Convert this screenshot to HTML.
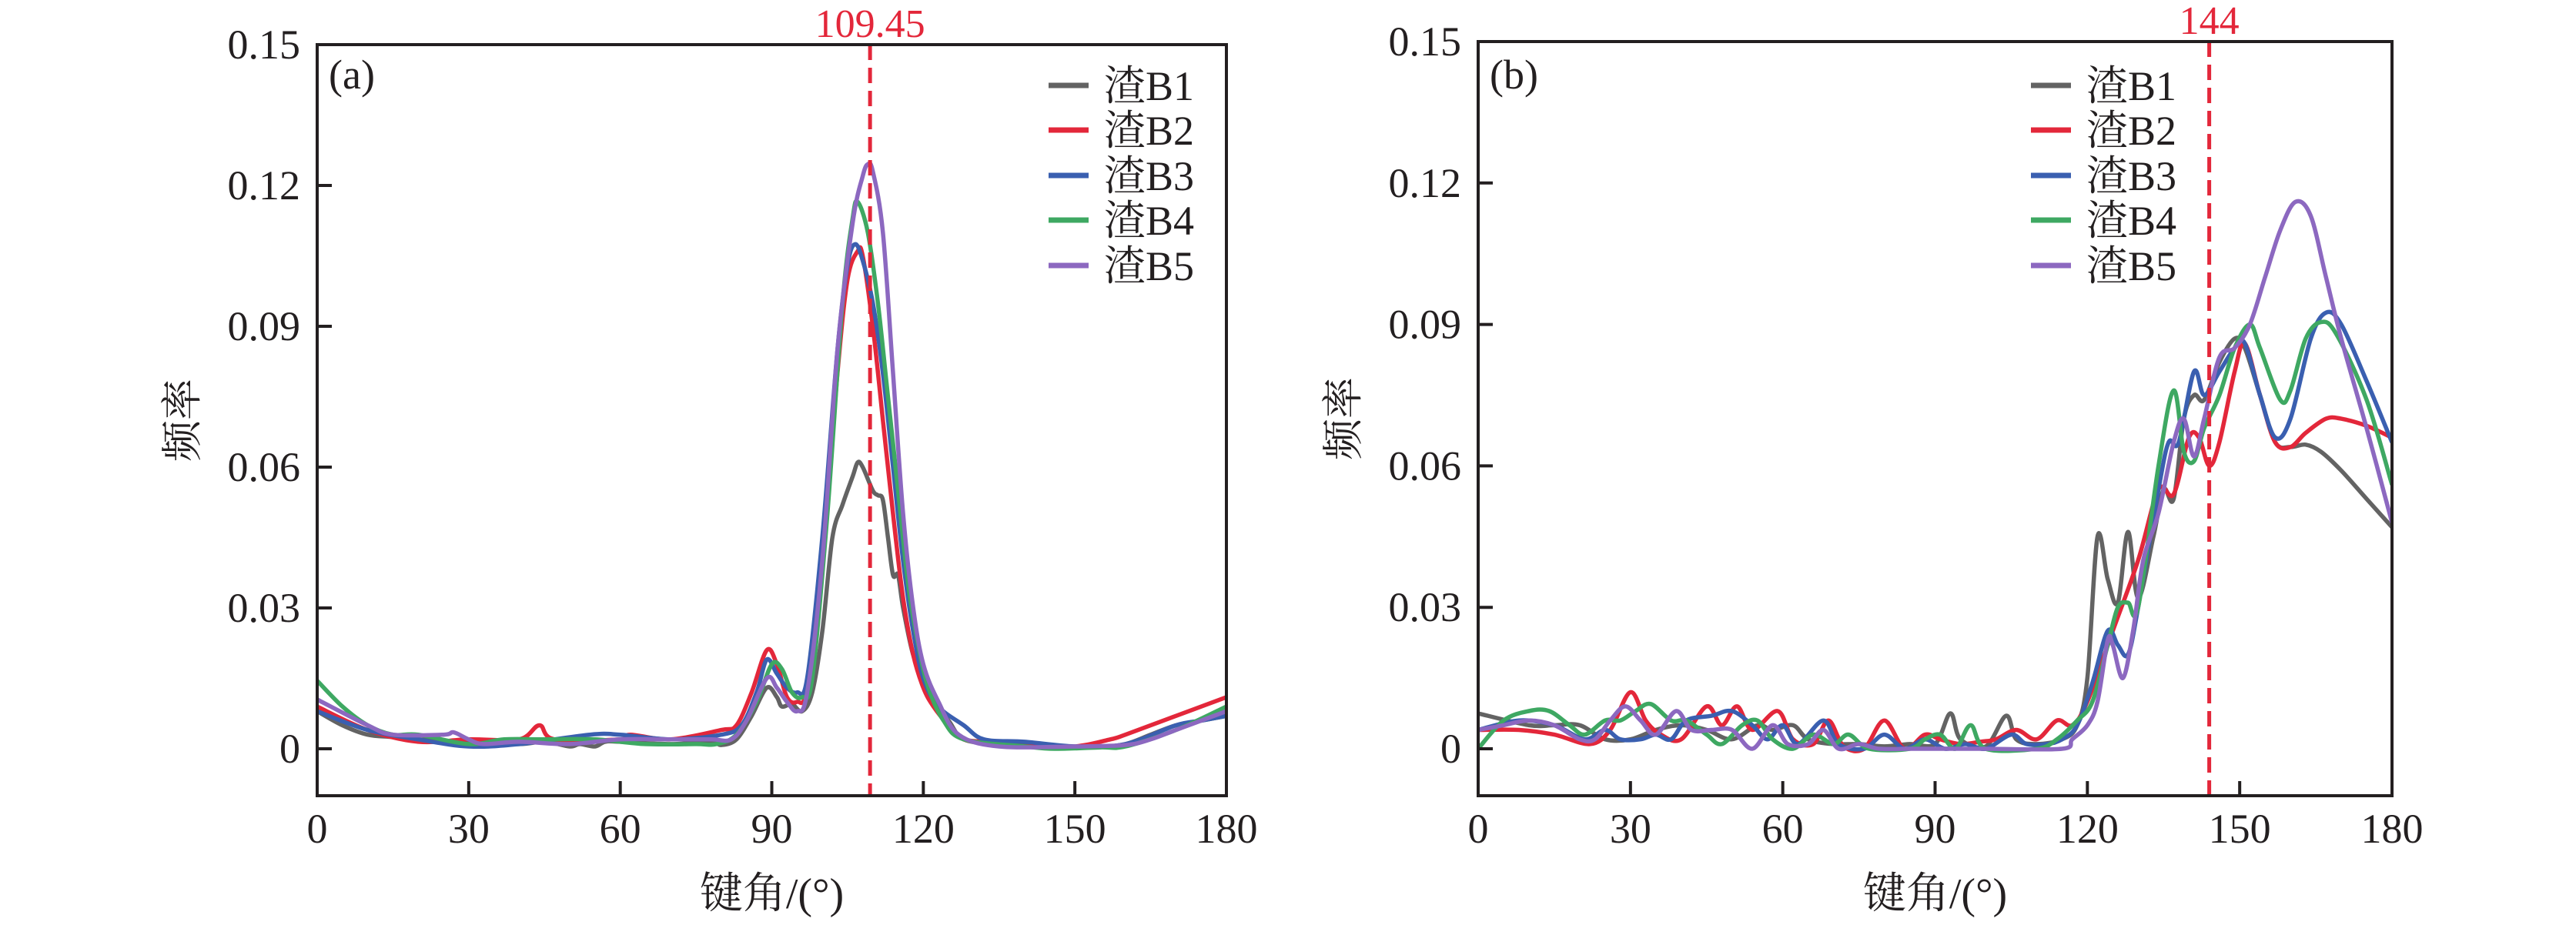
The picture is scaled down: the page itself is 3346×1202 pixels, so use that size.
<!DOCTYPE html>
<html><head><meta charset="utf-8">
<style>
html,body{margin:0;padding:0;background:#fff;}
svg text{font-family:"Liberation Serif","Noto Serif CJK SC",serif;fill:#231f20;}
</style></head>
<body>
<svg id="s" xmlns="http://www.w3.org/2000/svg" width="3346" height="1197" viewBox="0 0 3346 1197"></svg>
<script>
const svg=document.getElementById('s');
const NS='http://www.w3.org/2000/svg';
function el(t,a,txt){const e=document.createElementNS(NS,t);for(const k in a)e.setAttribute(k,a[k]);if(txt!==undefined)e.textContent=txt;svg.appendChild(e);return e;}
const colors=['#636363','#e3273a','#3a5fb0','#3ea862','#8c68c0'];
function parse(s){return s.trim().split(/,\s*/).map(p=>p.split(':').map(Number));}
const A=[
"0:0.008,5:0.005,10:0.003,15:0.0025,20:0.002,30:0.0015,40:0.001,45:0.0015,50:0.0005,52:0.001,55:0.0005,57:0.0015,60:0.0015,70:0.001,78:0.0015,80:0.0008,83:0.002,86:0.007,89:0.013,91:0.011,92:0.009,94:0.0095,96:0.008,98:0.012,100:0.025,102:0.045,104:0.052,106:0.058,107:0.061,108:0.06,110:0.055,111:0.054,112:0.053,113:0.045,114:0.037,115:0.037,116:0.03,118:0.02,120:0.016,122:0.01,125:0.006,128:0.002,135:0.001,145:0.0005,155:0.0005,160:0.001,165:0.003,170:0.005,175:0.006,180:0.007",
"0:0.009,10:0.004,20:0.0015,30:0.002,40:0.002,44:0.005,47:0.002,60:0.002,62:0.003,70:0.002,80:0.004,83:0.005,86:0.012,89:0.021,91:0.018,93:0.011,95:0.01,97:0.013,100:0.04,103:0.08,105:0.1,107:0.106,108:0.105,110:0.09,112:0.07,114:0.05,116:0.032,118:0.02,120:0.013,122:0.009,125:0.005,128:0.002,133:0.0015,135:0.001,140:0.0005,150:0.0005,157:0.002,160:0.003,170:0.007,180:0.011",
"0:0.008,10:0.004,20:0.002,30:0.0005,40:0.001,54:0.003,60:0.003,70:0.002,80:0.003,84:0.005,87:0.012,89:0.019,91:0.016,93:0.013,95:0.012,97:0.015,100:0.045,103:0.085,105:0.103,106.5:0.1075,108:0.104,110:0.095,112:0.08,114:0.06,116:0.04,118:0.025,120:0.015,123:0.009,128:0.005,132:0.002,140:0.0015,150:0.0005,160:0.001,170:0.005,175:0.006,180:0.007",
"0:0.0145,5:0.009,10:0.005,15:0.003,20:0.003,30:0.001,37:0.002,45:0.002,55:0.002,65:0.001,75:0.001,79:0.001,83:0.003,87:0.01,90:0.018,92:0.017,94:0.012,96:0.011,98:0.015,101:0.05,104:0.095,106:0.113,107:0.1165,109:0.11,111:0.095,113:0.075,115:0.055,117:0.035,119:0.022,121:0.013,124:0.006,128:0.002,140:0.0005,146:0.0,155:0.0003,160:0.0005,170:0.004,180:0.009",
"0:0.0105,10:0.005,15:0.003,25:0.003,27:0.0035,30:0.002,33:0.001,40:0.0015,50:0.001,60:0.002,70:0.002,78:0.002,82:0.002,85:0.006,89:0.015,91:0.013,93:0.01,95:0.008,97:0.012,100:0.04,103:0.085,106:0.112,108:0.122,109:0.1245,110:0.123,112:0.11,114:0.08,116:0.05,118:0.03,120:0.018,123:0.01,127:0.003,135:0.0005,150:0.0005,160:0.0008,165:0.002,170:0.004,180:0.008"];
const B=[
"0:0.0075,10:0.005,15:0.005,20:0.005,25:0.002,30:0.002,35:0.004,40:0.005,45:0.004,50:0.002,55:0.005,58:0.004,62:0.005,65:0.002,70:0.001,75:0.001,80:0.0005,85:0.001,90:0.001,93:0.0075,95:0.002,100:0.0005,104:0.007,106:0.002,110:0.001,115:0.002,118:0.005,120:0.015,122:0.045,124:0.036,126:0.031,128:0.046,130:0.032,133:0.045,135:0.055,137:0.053,139:0.07,141:0.075,143:0.074,146:0.082,149:0.087,151:0.085,154:0.075,157:0.065,160:0.064,163:0.0645,166:0.063,170:0.059,175:0.053,180:0.047",
"0:0.004,8:0.004,15:0.003,22:0.001,26:0.004,30:0.012,33:0.006,36:0.003,40:0.002,45:0.009,48:0.005,51:0.009,54:0.004,59:0.008,62:0.002,66:0.001,69:0.006,72:0.0005,76:0.0,80:0.006,84:0.0,88:0.003,91:0.002,95:0.001,99:0.0015,102:0.002,106:0.004,110:0.002,114:0.006,117:0.005,120:0.01,125:0.025,130:0.04,134:0.055,137:0.054,140:0.066,142:0.066,144:0.06,146:0.065,149:0.08,151:0.086,154:0.075,157:0.065,160:0.064,163:0.067,167:0.07,170:0.07,175:0.0685,180:0.066",
"0:0.004,8:0.006,15:0.005,21:0.002,25:0.004,28:0.002,32:0.002,35:0.003,38:0.002,41:0.006,46:0.007,50:0.008,54:0.005,57:0.002,60:0.005,63:0.001,68:0.006,71:0.001,76:0.0,80:0.003,84:0.0,88:0.002,92:0.0,96:0.001,100:0.0,105:0.003,108:0.001,112:0.001,115:0.002,118:0.005,121:0.014,124:0.025,126:0.022,128:0.02,130:0.03,134:0.055,136:0.065,138:0.065,141:0.08,143:0.075,146:0.08,149:0.085,151:0.086,154:0.075,157:0.066,160:0.07,164:0.087,167:0.0925,170:0.09,175:0.078,180:0.065",
"0:0.0,5:0.006,10:0.008,14:0.008,18:0.005,21:0.003,25:0.006,28:0.006,31:0.008,34:0.0095,38:0.006,41:0.006,45:0.003,48:0.001,52:0.005,55:0.006,58:0.002,62:0.0,66:0.003,70:0.001,73:0.003,77:0.0,85:0.0,88:0.002,91:0.003,94:0.0,97:0.005,100:0.0,110:0.0,114:0.002,118:0.006,121:0.01,124:0.022,126:0.03,128:0.031,130:0.03,134:0.06,137:0.076,139:0.063,141:0.061,143:0.068,146:0.075,149:0.085,152:0.09,154:0.085,158:0.074,160:0.076,163:0.087,166:0.0905,169:0.088,175:0.074,180:0.056",
"0:0.004,5:0.005,10:0.006,15:0.005,20:0.002,23:0.002,26:0.006,29:0.009,32:0.006,35:0.003,39:0.008,42:0.004,46:0.004,50:0.004,54:0.0,58:0.005,61:0.001,65:0.001,68:0.004,71:0.0,75:0.001,79:0.0,85:0.0,90:0.0,95:0.0,100:0.0,115:0.0,117:0.002,120:0.005,122:0.01,124:0.023,125:0.022,127:0.015,129:0.025,131:0.04,134:0.05,137:0.065,139:0.07,141:0.062,143:0.07,146:0.083,149:0.085,152:0.09,155:0.1,158:0.11,161:0.116,164:0.113,167:0.1,170:0.087,175:0.068,180:0.048"];

function panel(x0,x1,yTop,y0,yBot,data,vline,vlabel,tag,legX){
  const X=v=>x0+v/180*(x1-x0);
  const Y=v=>y0-v*(y0-yTop)/0.15;
  const id='c'+tag;
  const cp=document.createElementNS(NS,'clipPath');cp.setAttribute('id',id);
  const r=document.createElementNS(NS,'rect');r.setAttribute('x',x0);r.setAttribute('y',yTop);r.setAttribute('width',x1-x0);r.setAttribute('height',yBot-yTop);
  cp.appendChild(r);svg.appendChild(cp);
  data.forEach((s,i)=>{
    const p=parse(s).map(q=>[X(q[0]),Y(q[1])]);
    let d='M'+p[0][0].toFixed(1)+' '+p[0][1].toFixed(1);
    for(let k=0;k<p.length-1;k++){
      const a=p[Math.max(0,k-1)],b=p[k],c=p[k+1],e=p[Math.min(p.length-1,k+2)];
      const t=6;
      const c1=[b[0]+(c[0]-a[0])/t,b[1]+(c[1]-a[1])/t];
      const c2=[c[0]-(e[0]-b[0])/t,c[1]-(e[1]-b[1])/t];
      d+=' C'+c1.map(v=>v.toFixed(1)).join(' ')+' '+c2.map(v=>v.toFixed(1)).join(' ')+' '+c[0].toFixed(1)+' '+c[1].toFixed(1);
    }
    el('path',{d:d,fill:'none',stroke:colors[i],'stroke-width':5.5,'stroke-linejoin':'round','clip-path':'url(#'+id+')'});
  });
  const vx=X(vline);
  el('line',{x1:vx,y1:yTop,x2:vx,y2:yBot,stroke:'#e3273a','stroke-width':5,'stroke-dasharray':'20 10'});
  el('text',{x:vx,y:yTop-10,'text-anchor':'middle','font-size':52,style:'fill:#e3273a'},vlabel);
  el('rect',{x:x0,y:yTop,width:x1-x0,height:yBot-yTop,fill:'none',stroke:'#231f20','stroke-width':4});
  for(let k=0;k<=6;k++){const tx=X(k*30);
    el('line',{x1:tx,y1:yBot,x2:tx,y2:yBot-19,stroke:'#231f20','stroke-width':4});
    el('text',{x:tx,y:1095,'text-anchor':'middle','font-size':54},String(k*30));}
  const yl=['0','0.03','0.06','0.09','0.12','0.15'];
  for(let k=0;k<=5;k++){const ty=Y(k*0.03);
    if(k<5)el('line',{x1:x0,y1:ty,x2:x0+19,y2:ty,stroke:'#231f20','stroke-width':4});
    el('text',{x:x0-22,y:ty+18,'text-anchor':'end','font-size':54},yl[k]);}
  el('text',{x:x0+15,y:115,'font-size':54},'('+tag+')');
  const cy=(yTop+yBot)/2;
  el('text',{x:x0-175,y:cy,'text-anchor':'middle','font-size':54,transform:'rotate(-90 '+(x0-175)+' '+cy+')',dy:18},'频率');
  el('text',{x:(x0+x1)/2,y:1180,'text-anchor':'middle','font-size':56},'键角/(°)');
  const rows=[111,169,228,286,345];
  rows.forEach((ry,i)=>{
    el('line',{x1:legX,y1:ry,x2:legX+52,y2:ry,stroke:colors[i],'stroke-width':7});
    el('text',{x:legX+72,y:ry+19,'font-size':54},'渣B'+(i+1));
  });
}
panel(412,1593,58,973,1034,A,109.45,'109.45','a',1362);
panel(1920,3107,54,973,1034,B,144,'144','b',2638);
</script>
</body></html>
